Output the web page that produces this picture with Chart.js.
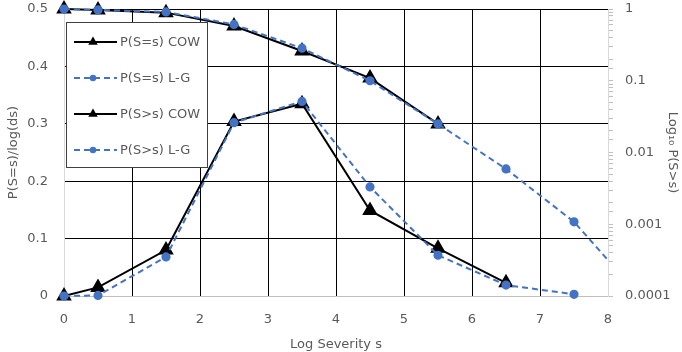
<!DOCTYPE html>
<html>
<head>
<meta charset="utf-8">
<script src="https://cdn.jsdelivr.net/npm/chart.js@4.4.1/dist/chart.umd.min.js"></script>
<style>
  body { margin: 0; background: #fff; }
</style>
</head>
<body>
<canvas id="myChart" width="682" height="352"></canvas>
<script>
// severity bins (log10 s)
var sCow = [0, 0.5, 1.5, 2.5, 3.5, 4.5, 5.5, 6.5];
var sLg = [0, 0.5, 1.5, 2.5, 3.5, 4.5, 5.5, 6.5, 7.5];
var sCcdfCow = [0, 0.5, 1.5, 2.5, 3.5, 4.5, 5.5];
var sCcdfLg = [0, 0.5, 1.5, 2.5, 3.5, 4.5, 5.5, 6.5, 7.5, 8.5];

// P(S=s)/log(ds)
var pdfCow = [0, 0.015, 0.08, 0.304, 0.335, 0.149, 0.083, 0.023];
var pdfLg = [0, 0.001, 0.068, 0.302, 0.339, 0.19, 0.071, 0.019, 0.003];

// P(S>s), log axis
var ccdfCow = [1, 0.97, 0.89, 0.58, 0.26, 0.109, 0.025];
var ccdfLg = [1, 0.97, 0.91, 0.61, 0.284, 0.1, 0.025, 0.0059, 0.00108, 0.000093];

var legendLabels = ["P(S=s) COW", "P(S=s) L-G", "P(S>s) COW", "P(S>s) L-G"];
var xTicks = [0, 1, 2, 3, 4, 5, 6, 7, 8];

var BLUE = "#4472C4";
var TXT = "#595959";
var FONT = "'DejaVu Sans', sans-serif";

function pts(xs, ys) {
  return xs.map(function (x, i) { return { x: x, y: ys[i] }; });
}

var clipBox = { left: 12, top: 12, right: 0, bottom: 12 };

var insideLegend = {
  id: "insideLegend",
  afterDraw: function (chart) {
    var ctx = chart.ctx;
    ctx.save();
    ctx.fillStyle = "#fff";
    ctx.fillRect(66, 22, 142, 146);
    ctx.strokeStyle = "#404040";
    ctx.lineWidth = 1;
    ctx.strokeRect(66.5, 22.5, 141, 145);
    var rows = [42, 78, 114, 150];
    chart.data.datasets.forEach(function (ds, i) {
      var y = rows[i];
      ctx.beginPath();
      ctx.strokeStyle = ds.borderColor;
      ctx.lineWidth = 2;
      ctx.setLineDash(ds.borderDash || []);
      ctx.moveTo(74, y);
      ctx.lineTo(117, y);
      ctx.stroke();
      ctx.setLineDash([]);
      ctx.fillStyle = ds.pointBackgroundColor;
      ctx.beginPath();
      if (ds.pointStyle === "triangle") {
        var r = 5.5;
        ctx.moveTo(93, y - r);
        ctx.lineTo(93 + r * 0.866, y + r * 0.5);
        ctx.lineTo(93 - r * 0.866, y + r * 0.5);
        ctx.closePath();
      } else {
        ctx.arc(93, y, 3.2, 0, Math.PI * 2);
      }
      ctx.fill();
      ctx.fillStyle = TXT;
      ctx.font = "13px " + FONT;
      ctx.textBaseline = "middle";
      ctx.fillText(legendLabels[i], 120, y + 1);
    });
    ctx.restore();
  }
};

var myChart = new Chart(document.getElementById("myChart"), {
  type: "line",
  data: {
    datasets: [{
      label: legendLabels[0],
      data: pts(sCow, pdfCow),
      yAxisID: "y",
      borderColor: "#000",
      borderWidth: 2,
      pointStyle: "triangle",
      pointRadius: 7,
      pointBackgroundColor: "#000",
      pointBorderColor: "#000",
      order: 2,
      clip: clipBox
    }, {
      label: legendLabels[1],
      data: pts(sLg, pdfLg),
      yAxisID: "y",
      borderColor: BLUE,
      borderWidth: 2,
      borderDash: [6, 4],
      pointStyle: "circle",
      pointRadius: 3.6,
      pointBackgroundColor: BLUE,
      pointBorderColor: BLUE,
      order: 1,
      clip: clipBox
    }, {
      label: legendLabels[2],
      data: pts(sCcdfCow, ccdfCow),
      yAxisID: "y2",
      borderColor: "#000",
      borderWidth: 2,
      pointStyle: "triangle",
      pointRadius: 7,
      pointBackgroundColor: "#000",
      pointBorderColor: "#000",
      order: 2,
      clip: clipBox
    }, {
      label: legendLabels[3],
      data: pts(sCcdfLg, ccdfLg),
      yAxisID: "y2",
      borderColor: BLUE,
      borderWidth: 2,
      borderDash: [6, 4],
      pointStyle: "circle",
      pointRadius: 3.6,
      pointBackgroundColor: BLUE,
      pointBorderColor: BLUE,
      order: 1,
      clip: clipBox
    }]
  },
  options: {
    responsive: false,
    animation: false,
    layout: { padding: { top: 8, left: 0, right: 0, bottom: 0 } },
    plugins: {
      legend: { display: false },
      tooltip: { enabled: false }
    },
    scales: {
      x: {
        type: "linear",
        min: 0,
        max: 8,
        afterBuildTicks: function (scale) {
          scale.ticks = xTicks.map(function (v) { return { value: v }; });
        },
        afterFit: function (scale) { scale.height = 56; },
        grid: {
          color: function (c) { return (c.tick.value === 0 || c.tick.value === 8) ? "rgba(0,0,0,0)" : "#000"; },
          drawTicks: false
        },
        border: { color: "#bfbfbf", width: 1 },
        ticks: { color: TXT, font: { family: FONT, size: 13 }, padding: 16 },
        title: { display: true, text: "Log Severity s", color: TXT, font: { family: FONT, size: 13 }, padding: { top: 2, bottom: 0 } }
      },
      y: {
        position: "left",
        min: 0,
        max: 0.5,
        afterFit: function (scale) { scale.width = 64; scale.paddingTop = 0; scale.paddingBottom = 0; },
        grid: {
          color: function (c) { return c.tick.value === 0 ? "rgba(0,0,0,0)" : "#000"; },
          drawTicks: false
        },
        border: { color: "#d9d9d9", width: 1 },
        ticks: { stepSize: 0.1, color: TXT, font: { family: FONT, size: 13 }, padding: 16 },
        title: { display: true, text: "P(S=s)/log(ds)", color: TXT, font: { family: FONT, size: 13 }, padding: { top: 6, bottom: 0 } }
      },
      y2: {
        type: "logarithmic",
        position: "right",
        min: 0.0001,
        max: 1,
        afterFit: function (scale) { scale.width = 74; scale.paddingTop = 0; scale.paddingBottom = 0; },
        grid: { drawOnChartArea: false, color: "#bfbfbf", tickLength: 5 },
        border: { color: "#d9d9d9", width: 1 },
        ticks: {
          autoSkip: false,
          color: TXT,
          font: { family: FONT, size: 13 },
          padding: 12,
          callback: function (v) {
            var l = Math.log10(v);
            return Math.abs(l - Math.round(l)) < 1e-9 ? String(v) : "";
          }
        },
        title: { display: true, text: "Log\u2081\u2080 P(S>s)", color: TXT, font: { family: FONT, size: 13 }, padding: { top: 2, bottom: 0 } }
      }
    }
  },
  plugins: [insideLegend]
});
</script>
</body>
</html>
